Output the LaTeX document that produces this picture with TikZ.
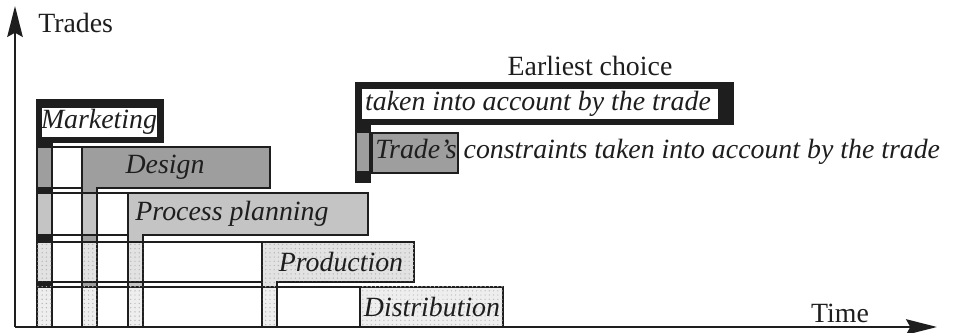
\documentclass[tikz,border=0pt]{standalone}
\usepackage{fontspec}
\setmainfont{Liberation Serif}
\usetikzlibrary{arrows.meta,positioning,patterns}
\definecolor{trdesign}{RGB}{158,158,158}
\definecolor{trplan}{RGB}{196,196,196}
\definecolor{trprod}{RGB}{226,226,226}
\definecolor{trdist}{RGB}{238,238,238}
\definecolor{trink}{RGB}{30,30,30}
\tikzset{
  axisline/.style={draw=trink, line width=1.5pt, -{Stealth[length=22pt, width=11pt, inset=3pt]}},
  rowframe/.style={draw=trink, line width=0.9pt},
  tradeL/.style={fill=#1, draw=trink, line width=1.8pt, line join=miter},
  cell/.style={fill=#1, draw=trink, line width=1.4pt},
  dotted cell/.style={fill=#1, draw=trink, line width=1.4pt,
                      postaction={pattern=dots, pattern color=black!30}},
  tlabel/.style={font=\fontsize{19.8}{22}\selectfont\itshape, inner sep=0pt, text=trink},
  plabel/.style={font=\fontsize{19.8}{22}\selectfont, inner sep=0pt, text=trink},
}
\begin{document}
\begin{tikzpicture}[x=0.025cm, y=-0.025cm]
\useasboundingbox (0,0) rectangle (960,333);
% Row frames behind the bars
\draw[rowframe] (37,147) rectangle (270,188);
\draw[rowframe] (37,193) rectangle (368,235);
\draw[rowframe] (37,242) rectangle (414,282);
\draw[rowframe] (37,287) rectangle (503,327);
% Marketing: black bar and column, white label field
\filldraw[tradeL=trink] (37,100) -- (163,100) -- (163,142) -- (52,142) -- (52,327) -- (37,327) -- cycle;
\fill[white] (42,108) rectangle (157,137);
% Design
\filldraw[tradeL=trdesign] (82,147) -- (270,147) -- (270,188) -- (97,188) -- (97,327) -- (82,327) -- cycle;
% Process planning
\filldraw[tradeL=trplan] (128,193) -- (368,193) -- (368,235) -- (143,235) -- (143,327) -- (128,327) -- cycle;
% Production
\filldraw[tradeL=trprod, postaction={pattern=dots, pattern color=black!30}] (262,242) -- (414,242) -- (414,282) -- (277,282) -- (277,327) -- (262,327) -- cycle;
% Distribution
\filldraw[tradeL=trdist, postaction={pattern=dots, pattern color=black!25}] (360,287) rectangle (503,327);
% Column cells: constraints of each trade seen by the later ones
\draw[cell=trdesign] (37,147) rectangle ++(15,41);
\foreach \cx in {37,82} \draw[cell=trplan] (\cx,193) rectangle ++(15,42);
\foreach \cx in {37,82,128} \draw[dotted cell=trprod] (\cx,242) rectangle ++(15,40);
\foreach \cx in {37,82,128,262} \draw[dotted cell=trdist] (\cx,287) rectangle ++(15,40);
% Trade names
\node[tlabel] (mkt) at (99,122) {Marketing};
\node[tlabel] (dsg) at (165,167) {Design};
\node[tlabel] (ppl) at (232,214) {Process planning};
\node[tlabel] (prd) at (341,262) {Production};
\node[tlabel] (dst) at (432,307) {Distribution};
% Legend
\filldraw[tradeL=trink] (356,83) -- (733,83) -- (733,124) -- (370,124) -- (370,182) -- (356,182) -- cycle;
\fill[white] (362,89) rectangle (718,119);
\draw[cell=trdesign] (356,132) rectangle (370,172);
\draw[cell=trdesign] (372,133) rectangle (458,173);
\node[plabel] (earliest) at (590,66) {Earliest choice};
\node[tlabel] (legbar) at (538,104) {taken into account by the trade};
\node[tlabel, anchor=west] (legcell) at (375,152) {Trade's constraints taken into account by the trade};
% Axes
\coordinate (origin) at (15,327);
\coordinate (ytip) at (15,6);
\coordinate (xtip) at (937,327);
\draw[axisline] (origin) -- (ytip);
\draw[axisline] (origin) -- (xtip);
\node[plabel, anchor=west] (trades) at (38,23) {Trades};
\node[plabel] (time) at (840,313) {Time};
\end{tikzpicture}
\end{document}
